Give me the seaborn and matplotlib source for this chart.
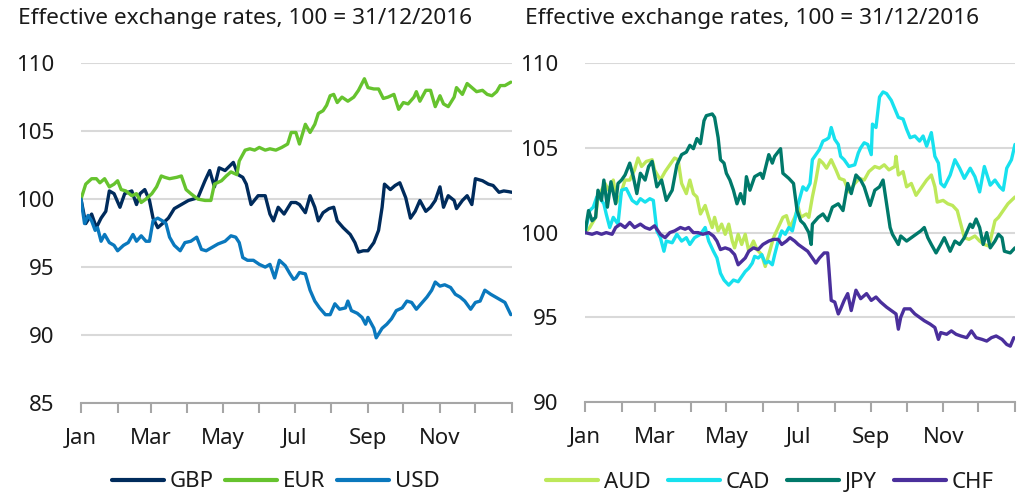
import pandas as pd
import matplotlib
matplotlib.use("Agg")
import matplotlib.pyplot as plt
import matplotlib.dates as mdates
import seaborn as sns

# -----------------------------
# DATA (day = days after 1 Jan 2017, index 100 = 31/12/2016)
# -----------------------------
gbp_day = [0, 4, 9, 13, 17, 21, 24, 28, 33, 37, 43, 47, 50, 54, 58, 61, 65, 69, 74, 79, 91, 99, 105, 109,
           113, 117, 122, 129, 133, 137, 140, 144, 150, 156, 160, 163, 167, 172, 178, 182, 185, 190, 194,
           198, 201, 205, 210, 214, 217, 222, 228, 232, 235, 239, 243, 248, 252, 255, 257, 262, 266, 270,
           275, 279, 283, 287, 292, 296, 300, 304, 307, 311, 316, 318, 323, 327, 331, 334, 340, 345, 349,
           354, 358, 362, 365]
gbp_val = [100, 98.2, 98.9, 97.9, 98.6, 99.1, 100.6, 100.4, 99.4, 100.4, 100.6, 99.6, 100.4, 100.7, 99.9,
           98.6, 97.9, 98.2, 98.6, 99.3, 99.9, 100.1, 101.35, 102.1, 100.9, 102.3, 102.1, 102.7, 101.8, 101.6,
           101.1, 99.6, 100.25, 100.25, 98.9, 98.4, 99.4, 98.9, 99.75, 99.75, 99.6, 99.0, 100.25, 99.4, 98.4,
           99.0, 99.3, 99.4, 98.4, 97.9, 97.4, 96.8, 96.1, 96.2, 96.2, 96.8, 97.7, 99.4, 101.1, 100.7, 101.0,
           101.2, 100.1, 98.6, 99.1, 99.9, 99.1, 99.4, 99.9, 100.9, 99.4, 100.25, 99.9, 99.3, 99.9, 100.25,
           99.6, 101.5, 101.35, 101.1, 101.0, 100.5, 100.6, 100.55, 100.5]

eur_day = [0, 4, 9, 13, 16, 20, 24, 28, 31, 34, 38, 43, 47, 51, 55, 60, 64, 68, 71, 75, 81, 85, 89, 93, 99,
           105, 110, 113, 119, 123, 127, 132, 134, 139, 143, 147, 151, 156, 160, 165, 170, 175, 178, 182,
           185, 190, 194, 198, 201, 205, 208, 211, 214, 217, 221, 226, 231, 235, 240, 243, 248, 252, 256,
           260, 265, 269, 273, 277, 282, 284, 287, 292, 296, 300, 304, 307, 311, 316, 318, 323, 327, 331,
           335, 340, 344, 348, 352, 355, 359, 364]
eur_val = [100, 101.1, 101.5, 101.5, 101.2, 101.5, 100.9, 101.1, 101.35, 100.7, 100.6, 100.25, 100.4, 99.75,
           100, 100.4, 100.9, 101.7, 101.6, 101.5, 101.6, 101.7, 100.7, 100.4, 100, 99.9, 99.9, 101.1,
           101.35, 101.7, 102.0, 101.8, 102.8, 103.6, 103.7, 103.6, 103.8, 103.6, 103.7, 103.6, 103.8,
           104.05, 104.9, 104.9, 104.05, 105.5, 104.9, 105.5, 106.3, 106.5, 106.9, 107.6, 107.7, 107.1,
           107.5, 107.2, 107.5, 108.0, 108.85, 108.2, 108.1, 108.1, 107.4, 107.5, 107.7, 106.6, 107.1,
           107.0, 107.5, 107.9, 107.2, 108.0, 108.0, 106.8, 107.6, 107.0, 106.8, 107.5, 108.2, 107.7,
           108.5, 108.2, 107.9, 108.0, 107.7, 107.6, 107.9, 108.35, 108.35, 108.6]

usd_day = [0, 3, 6, 9, 12, 14, 17, 20, 24, 28, 31, 36, 40, 44, 47, 51, 55, 58, 61, 65, 69, 72, 75, 79, 84,
           88, 93, 98, 102, 106, 110, 116, 122, 127, 131, 134, 137, 141, 146, 151, 156, 160, 164, 168, 173,
           177, 180, 182, 185, 190, 194, 198, 202, 207, 211, 215, 219, 224, 226, 229, 234, 238, 241, 243,
           248, 250, 255, 259, 263, 267, 272, 276, 280, 284, 289, 293, 297, 300, 304, 308, 313, 317, 321,
           325, 330, 334, 338, 342, 347, 351, 355, 359, 364]
usd_val = [100, 98.2, 98.8, 98.4, 97.7, 97.9, 96.9, 97.4, 96.8, 96.6, 96.2, 96.6, 96.8, 97.4, 96.9, 97.3,
           96.9, 96.9, 98.4, 98.6, 98.4, 98.2, 97.2, 96.6, 96.2, 96.8, 96.9, 97.2, 96.3, 96.2, 96.4, 96.7,
           96.9, 97.3, 97.2, 96.8, 95.7, 95.5, 95.5, 95.2, 95.0, 95.2, 94.2, 95.5, 95.1, 94.5, 94.1, 94.2,
           94.6, 94.5, 93.3, 92.5, 92.0, 91.5, 91.5, 92.3, 91.9, 92.0, 92.5, 91.8, 91.6, 91.3, 90.8, 91.3,
           90.5, 89.8, 90.5, 90.8, 91.2, 91.8, 92.0, 92.5, 92.4, 91.9, 92.4, 92.8, 93.3, 93.9, 93.6, 93.7,
           93.5, 93.0, 92.8, 92.5, 91.9, 92.4, 92.5, 93.3, 93.0, 92.8, 92.6, 92.4, 91.5]

aud_day = [0, 4, 9, 11, 14, 17, 20, 24, 27, 30, 34, 38, 42, 45, 48, 52, 57, 59, 64, 68, 72, 76, 79, 82, 86,
           89, 92, 95, 98, 102, 105, 108, 110, 113, 116, 119, 122, 125, 127, 130, 133, 136, 139, 143, 146,
           150, 153, 156, 160, 164, 168, 171, 174, 178, 181, 183, 188, 190, 193, 196, 199, 202, 205, 209,
           213, 216, 220, 224, 229, 233, 237, 241, 246, 250, 254, 258, 263, 264, 266, 270, 273, 277, 281,
           285, 290, 294, 297, 299, 304, 308, 312, 316, 319, 322, 326, 331, 335, 339, 343, 348, 351, 355,
           359, 365]
aud_val = [100, 100.3, 100.9, 102.1, 102.5, 102.9, 102.5, 103.1, 101.8, 102.2, 103.1, 103.1, 103.7, 104.4,
           103.9, 104.2, 104.3, 103.7, 103.1, 103.6, 104.0, 104.4, 104.3, 102.9, 102.3, 103.1, 102.3, 102.1,
           101.1, 101.6, 100.9, 100.3, 100.9, 100.1, 100.5, 99.9, 100.5, 99.5, 99.1, 99.9, 99.3, 99.9, 98.9,
           99.5, 99.0, 98.7, 98.0, 98.7, 99.7, 100.3, 100.9, 101.0, 100.3, 100.9, 101.5, 100.9, 101.1, 100.9,
           102.1, 103.1, 104.3, 104.1, 103.8, 104.3, 103.7, 103.2, 103.1, 102.4, 102.9, 103.2, 103.1, 103.6,
           103.9, 103.8, 104.0, 103.7, 103.9, 104.5, 103.4, 103.6, 102.7, 102.9, 102.2, 102.6, 103.1, 103.4,
           102.7, 101.8, 101.9, 101.7, 101.6, 101.3, 100.5, 99.7, 99.6, 99.8, 99.5, 99.3, 99.2, 100.7, 100.9,
           101.3, 101.7, 102.1]

cad_day = [0, 4, 7, 10, 13, 16, 18, 21, 24, 28, 31, 35, 40, 44, 47, 51, 55, 58, 61, 64, 67, 69, 74, 78, 82,
           86, 89, 93, 98, 102, 105, 109, 112, 115, 118, 122, 126, 130, 133, 136, 139, 142, 144, 147, 150,
           153, 156, 159, 161, 164, 167, 170, 173, 176, 178, 181, 185, 188, 191, 193, 196, 199, 202, 205,
           207, 209, 212, 215, 217, 220, 224, 229, 232, 234, 237, 240, 243, 244, 247, 250, 253, 256, 260,
           263, 266, 270, 273, 276, 280, 284, 287, 290, 294, 297, 300, 302, 305, 310, 314, 318, 322, 327,
           331, 335, 339, 344, 348, 352, 355, 358, 362, 365]
cad_val = [100, 101.3, 101.5, 102.1, 102.0, 101.7, 101.1, 100.3, 100.9, 100.5, 102.5, 102.6, 101.9, 101.7,
           102.0, 101.8, 102.0, 101.9, 100.1, 99.7, 98.9, 99.5, 99.4, 99.9, 99.5, 99.7, 99.3, 99.7, 99.9,
           100.3, 99.5, 98.9, 98.5, 97.6, 97.2, 96.9, 97.2, 97.1, 97.4, 97.7, 97.9, 98.2, 98.6, 98.5, 98.7,
           98.2, 98.3, 98.1, 98.7, 99.5, 100.1, 99.9, 100.3, 100.1, 100.7, 101.7, 102.7, 102.5, 102.9, 104.3,
           104.6, 104.9, 105.4, 105.5, 105.6, 106.2, 105.5, 105.2, 104.5, 104.3, 103.9, 104.0, 104.7, 105.0,
           105.3, 105.2, 104.6, 106.4, 106.2, 108.0, 108.3, 108.2, 107.8, 107.3, 106.8, 106.7, 106.1, 105.6,
           105.7, 105.4, 105.7, 105.1, 105.9, 104.5, 104.1, 102.9, 102.7, 103.4, 104.3, 103.8, 103.2, 103.8,
           103.3, 102.4, 103.9, 102.8, 103.1, 102.7, 102.5, 103.8, 104.3, 105.2]

jpy_day = [0, 3, 6, 9, 11, 14, 16, 19, 22, 26, 28, 31, 34, 38, 41, 44, 47, 51, 54, 57, 61, 65, 69, 74, 78,
           82, 86, 89, 92, 95, 98, 101, 103, 108, 110, 113, 115, 118, 120, 123, 126, 129, 132, 135, 137,
           140, 144, 149, 151, 156, 159, 161, 166, 168, 173, 177, 180, 183, 186, 190, 192, 193, 198, 202,
           206, 210, 215, 219, 223, 226, 230, 234, 237, 242, 246, 250, 253, 256, 259, 261, 266, 268, 273,
           277, 281, 285, 288, 291, 294, 298, 302, 305, 310, 314, 318, 322, 327, 329, 332, 335, 338, 341,
           344, 348, 351, 354, 356, 361, 365]
jpy_val = [100, 101.3, 100.7, 100.9, 102.5, 101.9, 103.1, 101.5, 103.0, 101.7, 102.9, 103.1, 103.4, 104.1,
           103.3, 102.3, 103.5, 103.1, 103.9, 104.2, 102.7, 103.1, 101.9, 102.5, 104.0, 104.6, 104.75, 105.15,
           104.95, 105.55, 105.25, 106.6, 106.9, 107.0, 106.8, 105.6, 104.3, 104.1, 103.5, 103.1, 102.5,
           101.7, 102.3, 101.7, 103.3, 102.5, 103.3, 103.5, 103.2, 104.6, 104.1, 104.5, 104.95, 103.5, 103.2,
           102.9, 101.3, 100.7, 100.5, 100.0, 99.3, 100.5, 100.9, 101.1, 100.7, 101.5, 101.7, 101.3, 102.9,
           102.3, 103.4, 103.1, 102.7, 101.6, 102.5, 102.7, 103.1, 101.7, 100.3, 99.9, 99.3, 99.8, 99.5,
           99.7, 99.9, 100.1, 100.3, 99.7, 99.3, 98.8, 99.3, 99.7, 98.9, 99.5, 99.3, 99.7, 100.5, 100.3,
           100.8, 100.3, 99.3, 100.0, 99.1, 99.5, 99.9, 99.7, 98.9, 98.8, 99.1]

chf_day = [0, 6, 10, 14, 18, 23, 26, 30, 34, 38, 42, 47, 51, 55, 59, 64, 68, 72, 76, 81, 85, 88, 92, 96,
           100, 105, 109, 112, 115, 119, 123, 127, 130, 133, 136, 139, 143, 147, 151, 156, 160, 164, 167,
           171, 174, 178, 181, 185, 189, 193, 196, 199, 203, 206, 207, 209, 212, 215, 217, 220, 223, 226,
           230, 234, 239, 243, 247, 251, 256, 260, 264, 266, 268, 271, 276, 280, 284, 288, 293, 297, 300,
           302, 307, 311, 315, 319, 324, 328, 332, 337, 341, 345, 349, 354, 358, 361, 364]
chf_val = [100, 99.9, 100.0, 99.9, 100.0, 99.9, 100.3, 100.5, 100.3, 100.6, 100.3, 100.5, 100.3, 100.2,
           100.4, 99.9, 99.7, 100.0, 100.1, 100.3, 100.2, 100.3, 100.0, 100.0, 99.9, 100.0, 99.8, 99.5, 99.0,
           99.1, 99.0, 98.7, 98.1, 98.3, 98.5, 98.9, 99.1, 99.0, 99.3, 99.5, 99.6, 99.6, 99.3, 99.5, 99.7,
           99.5, 99.3, 99.1, 98.9, 98.5, 98.2, 98.5, 98.8, 98.8, 97.9, 96.0, 95.9, 95.2, 95.5, 96.0, 96.4,
           95.4, 96.6, 96.1, 96.4, 96.0, 96.2, 95.9, 95.6, 95.4, 95.2, 94.3, 95.0, 95.5, 95.5, 95.2, 95.0,
           94.8, 94.6, 94.4, 93.7, 94.1, 94.0, 94.2, 94.0, 93.9, 93.8, 94.2, 93.8, 93.7, 93.6, 93.8, 93.9,
           93.7, 93.4, 93.3, 93.8]

left_names = ["GBP", "EUR", "USD"]
left_colors = ["#002b5c", "#66c32e", "#0a78bd"]
right_names = ["AUD", "CAD", "JPY", "CHF"]
right_colors = ["#bde85a", "#17e1ee", "#00796a", "#4a2f9c"]
month_labels = ["Jan", "Mar", "May", "Jul", "Sep", "Nov"]
title_text = "Effective exchange rates, 100 = 31/12/2016"

# -----------------------------
# BUILD LONG TABLES
# -----------------------------
start = pd.Timestamp("2017-01-01")
end = pd.Timestamp("2018-01-01")


def to_frame(names, days_list, vals_list):
    parts = []
    for name, days, vals in zip(names, days_list, vals_list):
        parts.append(pd.DataFrame({
            "date": start + pd.to_timedelta(days, unit="D"),
            "value": vals,
            "ccy": name,
        }))
    return pd.concat(parts, ignore_index=True)


df_left = to_frame(left_names, [gbp_day, eur_day, usd_day], [gbp_val, eur_val, usd_val])
df_right = to_frame(right_names, [aud_day, cad_day, jpy_day, chf_day],
                    [aud_val, cad_val, jpy_val, chf_val])

# -----------------------------
# PLOT
# -----------------------------
sns.set_theme(style="white")
plt.rcParams["font.family"] = ["Noto Sans", "DejaVu Sans"]
text_color = "#1a1a1a"
axis_gray = "#a6a6a6"
fs = 16

fig = plt.figure(figsize=(10.24, 4.97), dpi=100)
ax1 = fig.add_axes([0.0791, 0.189, 0.4209, 0.684])
ax2 = fig.add_axes([0.5713, 0.191, 0.4199, 0.682])

sns.lineplot(data=df_left, x="date", y="value", hue="ccy", hue_order=left_names,
             palette=left_colors, linewidth=2.4, estimator=None, sort=False, ax=ax1)
sns.lineplot(data=df_right, x="date", y="value", hue="ccy", hue_order=right_names,
             palette=right_colors, linewidth=2.4, estimator=None, sort=False, ax=ax2)

major_dates = [pd.Timestamp(f"2017-{m:02d}-01") for m in (1, 3, 5, 7, 9, 11)]
minor_dates = [pd.Timestamp(f"2017-{m:02d}-01") for m in range(1, 13)] + [end]


def style(ax, ylim, yticks, leg_x, leg_y, ncol, colsp):
    ax.set_xlim(start, end)
    ax.set_ylim(*ylim)
    ax.set_yticks(yticks)
    ax.set_axisbelow(True)
    ax.yaxis.grid(True, color="#d9d9d9", linewidth=1.5)
    ax.xaxis.grid(False)
    for s in ["left", "right", "top"]:
        ax.spines[s].set_visible(False)
    ax.spines["bottom"].set_color(axis_gray)
    ax.spines["bottom"].set_linewidth(1.5)
    ax.set_xticks(mdates.date2num(major_dates))
    ax.set_xticklabels(month_labels)
    ax.set_xticks(mdates.date2num(minor_dates), minor=True)
    ax.tick_params(axis="x", which="both", direction="out", length=7, width=1.5,
                   color=axis_gray, labelsize=fs, labelcolor=text_color, pad=11, bottom=True)
    ax.tick_params(axis="y", length=0, labelsize=fs, labelcolor=text_color, pad=19)
    ax.set_xlabel("")
    ax.set_ylabel("")
    handles, labels = ax.get_legend_handles_labels()
    leg = ax.legend(handles, labels, loc="center", bbox_to_anchor=(leg_x, leg_y), ncol=ncol,
                    frameon=False, fontsize=fs, handlelength=2.35, handletextpad=0.27,
                    columnspacing=colsp, labelcolor=text_color)
    for line in leg.get_lines():
        line.set_linewidth(3)


style(ax1, (85, 110), [85, 90, 95, 100, 105, 110], 0.452, -0.232, 3, 0.5)
style(ax2, (90, 110), [90, 95, 100, 105, 110], 0.43, -0.236, 4, 0.75)

fig.text(0.0176, 0.962, title_text, fontsize=16.3, va="center", ha="left", color=text_color)
fig.text(0.513, 0.962, title_text, fontsize=16.3, va="center", ha="left", color=text_color)

plt.savefig("out.png", dpi=100)
plt.close()
